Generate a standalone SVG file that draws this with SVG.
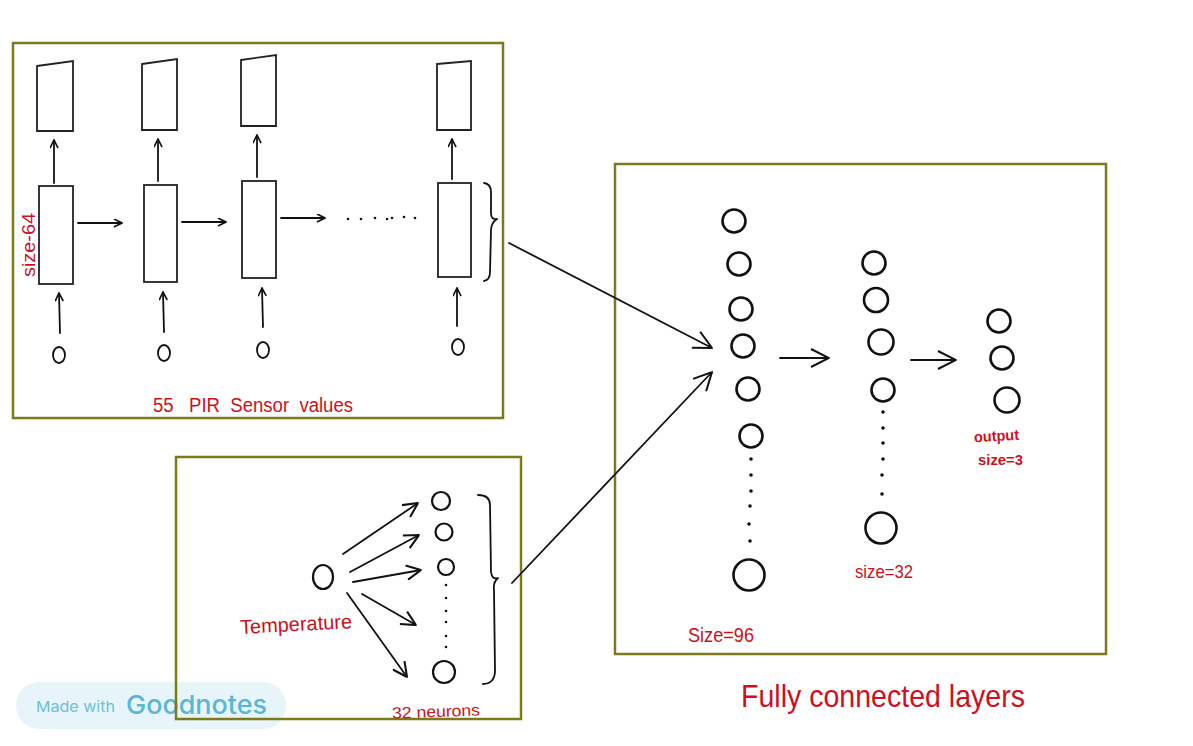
<svg xmlns="http://www.w3.org/2000/svg" width="1193" height="746" viewBox="0 0 1193 746">
<style>
.box{fill:none;stroke:#7d7a1c;stroke-width:2.5}
.ln{fill:none;stroke:#111;stroke-width:1.8;stroke-linecap:round;stroke-linejoin:round}
.lnb{fill:none;stroke:#111;stroke-width:2.2;stroke-linecap:round;stroke-linejoin:round}
.cell{fill:#fff;stroke:#222;stroke-width:1.8}
.neu{fill:none;stroke:#111;stroke-width:2.6}
.dot{fill:#111}
.red{fill:#cc1020;font-family:"Liberation Sans","Open Sans",sans-serif}
</style>
<defs>
<marker id="hs" viewBox="0 0 10 10" refX="10" refY="5" markerWidth="9" markerHeight="9" markerUnits="userSpaceOnUse" orient="auto"><path d="M1,0.5 L10,5 L1,9.5" fill="none" stroke="#111" stroke-width="1.8"/></marker>
<marker id="hm" viewBox="0 0 10 10" refX="10" refY="5" markerWidth="16" markerHeight="16" markerUnits="userSpaceOnUse" orient="auto"><path d="M1,0.5 L10,5 L1,9.5" fill="none" stroke="#111" stroke-width="1.3"/></marker>
<marker id="hl" viewBox="0 0 10 10" refX="10" refY="5" markerWidth="20" markerHeight="20" markerUnits="userSpaceOnUse" orient="auto"><path d="M1,0.5 L10,5 L1,9.5" fill="none" stroke="#111" stroke-width="1"/></marker>
</defs>
<rect width="1193" height="746" fill="#fff"/>

<g id="badge">
<rect x="16" y="682" width="270" height="47" rx="23" fill="#e7f5fa"/>
<text x="36" y="712" font-family="Inter,'Liberation Sans',sans-serif" font-size="15" fill="#6cc0d8" textLength="79" lengthAdjust="spacingAndGlyphs">Made with</text>
<text x="126" y="714" font-family="Inter,'Liberation Sans',sans-serif" font-size="26" font-weight="500" fill="#59b7d5" textLength="141" lengthAdjust="spacingAndGlyphs">Goodnotes</text>
</g>

<g id="lstm-box">
<rect class="box" x="13" y="43" width="490" height="375"/>
<polygon class="cell" points="37,66 73,61 73,131 37,131"/>
<polygon class="cell" points="142,64 177,59 177,130 142,130"/>
<polygon class="cell" points="241,60 276,55 276,126 241,126"/>
<polygon class="cell" points="437,64 471,61 471,130 437,130"/>
<rect class="cell" x="39" y="186" width="34" height="98"/>
<rect class="cell" x="144" y="185" width="33" height="97"/>
<rect class="cell" x="242" y="181" width="34" height="97"/>
<rect class="cell" x="438" y="183" width="33" height="94"/>
<ellipse class="ln" cx="59" cy="355" rx="6" ry="8"/>
<ellipse class="ln" cx="164" cy="353" rx="6" ry="8"/>
<ellipse class="ln" cx="263" cy="350" rx="6" ry="8"/>
<ellipse class="ln" cx="458" cy="347" rx="6" ry="8"/>
<g class="dot"><circle cx="348" cy="219" r="1.3"/><circle cx="361" cy="219" r="1.3"/><circle cx="375" cy="218" r="1.3"/><circle cx="387" cy="219" r="1.3"/><circle cx="392" cy="218" r="1.3"/><circle cx="404" cy="217" r="1.3"/><circle cx="415" cy="218" r="1.3"/></g>
<path class="ln" d="M484,183 Q491,184 491,192 L491,213 Q491,220 497,219 Q491,223 491,230 L490,272 Q490,280 484,281"/>
<text class="red" x="153" y="412" font-size="20" style="white-space:pre" textLength="200" lengthAdjust="spacingAndGlyphs">55   PIR  Sensor  values</text>
<text class="red" transform="translate(35,277) rotate(-90)" font-size="18" textLength="64" lengthAdjust="spacingAndGlyphs">size-64</text>
</g>

<g id="temp-box">
<rect class="box" x="176" y="457" width="345" height="262"/>
<ellipse class="lnb" cx="323" cy="577" rx="10" ry="12"/>
<circle class="lnb" cx="441" cy="501" r="9"/>
<circle class="lnb" cx="444" cy="532" r="8.5"/>
<circle class="lnb" cx="446" cy="567" r="8"/>
<g class="dot"><circle cx="446" cy="585" r="1.3"/><circle cx="446" cy="598" r="1.3"/><circle cx="446" cy="611" r="1.3"/><circle cx="446" cy="622" r="1.3"/><circle cx="446" cy="636" r="1.3"/><circle cx="446" cy="647" r="1.3"/></g>
<circle class="lnb" cx="444" cy="672" r="11"/>
<path class="ln" d="M478,495 Q490,495 490,505 L491,572 Q492,580 498,578 Q493,582 494,590 L495,672 Q494,684 483,684"/>
<text class="red" x="240" y="631" font-size="20" textLength="112" lengthAdjust="spacingAndGlyphs" transform="rotate(-3 296 625)">Temperature</text>
<text class="red" x="392" y="717" font-size="16" textLength="88" lengthAdjust="spacingAndGlyphs" transform="rotate(-2 436 712)">32 neurons</text>
</g>

<g id="fc-box">
<rect class="box" x="615" y="164" width="491" height="490"/>
<circle class="neu" cx="734" cy="221" r="11.5"/>
<circle class="neu" cx="739" cy="264" r="11.5"/>
<circle class="neu" cx="741" cy="309" r="11.5"/>
<circle class="neu" cx="743" cy="346" r="11.5"/>
<circle class="neu" cx="748" cy="389" r="11.5"/>
<circle class="neu" cx="751" cy="436" r="11.5"/>
<g class="dot"><circle cx="751" cy="459" r="1.8"/><circle cx="751" cy="475" r="1.8"/><circle cx="751" cy="491" r="1.8"/><circle cx="750" cy="506" r="1.8"/><circle cx="749" cy="524" r="1.8"/><circle cx="750" cy="541" r="1.8"/></g>
<circle class="neu" cx="749" cy="575" r="15.5"/>
<circle class="neu" cx="874" cy="263" r="11.5"/>
<circle class="neu" cx="876" cy="300" r="12"/>
<circle class="neu" cx="881" cy="342" r="12.5"/>
<circle class="neu" cx="883" cy="390" r="11.5"/>
<g class="dot"><circle cx="883" cy="412" r="1.8"/><circle cx="883" cy="428" r="1.8"/><circle cx="883" cy="443" r="1.8"/><circle cx="883" cy="459" r="1.8"/><circle cx="882" cy="475" r="1.8"/><circle cx="882" cy="494" r="1.8"/></g>
<circle class="neu" cx="881" cy="528" r="15.5"/>
<circle class="neu" cx="999" cy="321" r="11.5"/>
<circle class="neu" cx="1002" cy="358" r="11.5"/>
<circle class="neu" cx="1007" cy="400" r="12.5"/>
<text class="red" x="688" y="642" font-size="20" textLength="66" lengthAdjust="spacingAndGlyphs">Size=96</text>
<text class="red" x="855" y="578" font-size="18" textLength="58" lengthAdjust="spacingAndGlyphs">size=32</text>
<text class="red" x="974" y="441" font-size="15" font-weight="bold" textLength="45" lengthAdjust="spacingAndGlyphs" transform="rotate(-3 996 436)">output</text>
<text class="red" x="978" y="465" font-size="15" font-weight="bold" textLength="45" lengthAdjust="spacingAndGlyphs">size=3</text>
</g>

<text class="red" x="741" y="707" font-size="32" textLength="284" lengthAdjust="spacingAndGlyphs">Fully connected layers</text>

<g id="connectors">
<line class="ln" x1="54" y1="183" x2="54" y2="140" marker-end="url(#hs)"/>
<line class="ln" x1="158" y1="181" x2="158" y2="139" marker-end="url(#hs)"/>
<line class="ln" x1="257" y1="177" x2="257" y2="135" marker-end="url(#hs)"/>
<line class="ln" x1="452" y1="179" x2="452" y2="139" marker-end="url(#hs)"/>
<line class="ln" x1="60" y1="333" x2="59" y2="293" marker-end="url(#hs)"/>
<line class="ln" x1="164" y1="332" x2="163" y2="292" marker-end="url(#hs)"/>
<line class="ln" x1="263" y1="327" x2="262" y2="288" marker-end="url(#hs)"/>
<line class="ln" x1="457" y1="326" x2="457" y2="288" marker-end="url(#hs)"/>
<line class="ln" x1="78" y1="223" x2="122" y2="223" marker-end="url(#hs)"/>
<line class="ln" x1="182" y1="222" x2="226" y2="222" marker-end="url(#hs)"/>
<line class="ln" x1="281" y1="218" x2="325" y2="218" marker-end="url(#hs)"/>
<line class="ln" x1="343" y1="554" x2="418" y2="503" marker-end="url(#hm)"/>
<line class="ln" x1="350" y1="572" x2="419" y2="535" marker-end="url(#hm)"/>
<line class="ln" x1="353" y1="582" x2="421" y2="570" marker-end="url(#hm)"/>
<line class="ln" x1="362" y1="594" x2="416" y2="625" marker-end="url(#hm)"/>
<line class="ln" x1="347" y1="593" x2="407" y2="677" marker-end="url(#hm)"/>
<line class="ln" x1="509" y1="243" x2="712" y2="348" marker-end="url(#hl)"/>
<line class="ln" x1="512" y1="583" x2="712" y2="372" marker-end="url(#hl)"/>
<line class="ln" x1="780" y1="358" x2="829" y2="358" marker-end="url(#hl)"/>
<line class="ln" x1="911" y1="360" x2="956" y2="360" marker-end="url(#hl)"/>
</g>
</svg>
